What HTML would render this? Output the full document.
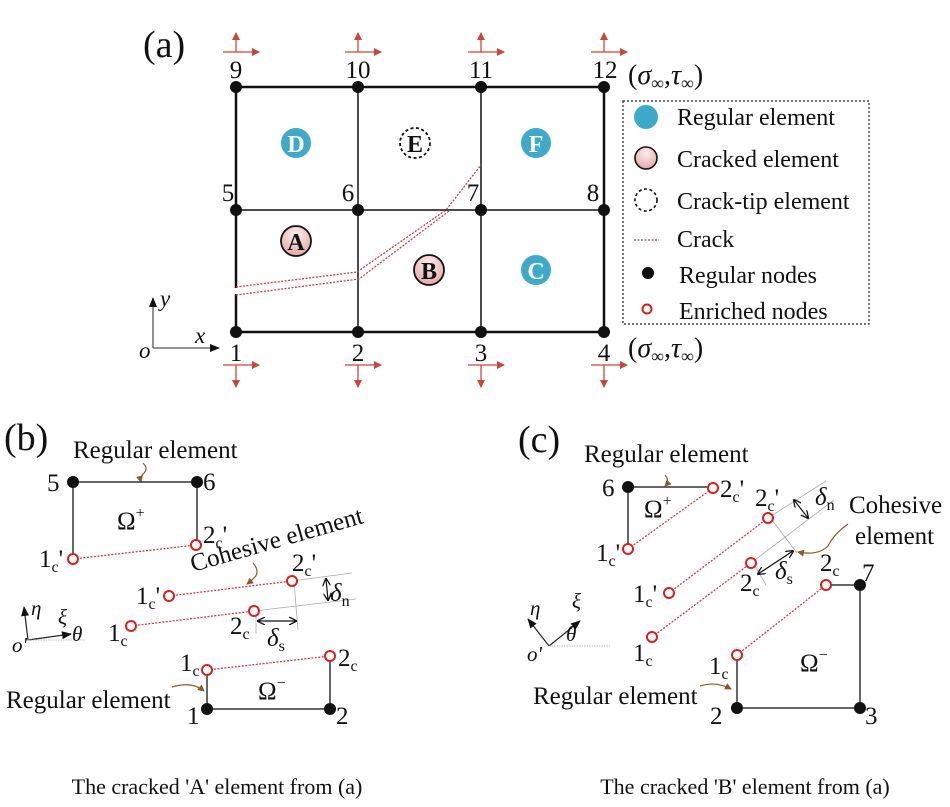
<!DOCTYPE html>
<html><head><meta charset="utf-8"><style>
html,body{margin:0;padding:0;background:#fff}
svg{display:block}
text{font-family:"Liberation Serif",serif;fill:#111}
.i{font-style:italic}
</style></head><body>
<svg width="950" height="807" viewBox="0 0 950 807" xmlns="http://www.w3.org/2000/svg">
<defs>
<marker id="ra" markerWidth="8" markerHeight="8" refX="7" refY="4" orient="auto" markerUnits="userSpaceOnUse"><path d="M0,0 L8,4 L0,8 z" fill="#c8463c"/></marker>
<marker id="ka" markerWidth="10" markerHeight="8" refX="9" refY="4" orient="auto" markerUnits="userSpaceOnUse"><path d="M0,0 L10,4 L0,8 z" fill="#111"/></marker>
<marker id="ks" markerWidth="8" markerHeight="8" refX="7" refY="4" orient="auto-start-reverse" markerUnits="userSpaceOnUse"><path d="M0,0 L8,4 L0,8" fill="none" stroke="#111" stroke-width="1.3"/></marker>
<marker id="ba" markerWidth="7" markerHeight="7" refX="6" refY="3.5" orient="auto" markerUnits="userSpaceOnUse"><path d="M0,0 L7,3.5 L0,7 z" fill="#8a5a2b"/></marker>
<radialGradient id="pk" cx="50%" cy="30%" r="70%"><stop offset="0" stop-color="#fbeeee"/><stop offset="1" stop-color="#e3a8a6"/></radialGradient>
</defs>

<!-- (a) -->
<text x="143" y="57" font-size="38">(a)</text>
<g stroke="#111" fill="none">
<rect x="236" y="87" width="368" height="245" stroke-width="2.5"/>
<line x1="358" y1="87" x2="358" y2="332" stroke-width="1.5"/>
<line x1="481" y1="87" x2="481" y2="332" stroke-width="1.5"/>
<line x1="236" y1="210" x2="604" y2="210" stroke-width="1.5"/>
</g>
<rect x="233" y="288" width="6" height="6" fill="#fff"/>
<g stroke="#c83c46" stroke-width="1.3" stroke-dasharray="2,1.5" fill="none">
<polyline points="236,287 357,272 446,210 481,165"/>
<polyline points="236,295 359,279 449,211"/>
</g>
<g fill="#111">
<circle cx="236" cy="87" r="6"/><circle cx="358" cy="87" r="6"/><circle cx="481" cy="87" r="6"/><circle cx="604" cy="87" r="6"/>
<circle cx="236" cy="210" r="6"/><circle cx="358" cy="210" r="6"/><circle cx="481" cy="210" r="6"/><circle cx="604" cy="210" r="6"/>
<circle cx="236" cy="332" r="6"/><circle cx="358" cy="332" r="6"/><circle cx="481" cy="332" r="6"/><circle cx="604" cy="332" r="6"/>
</g>
<g font-size="25" text-anchor="middle">
<text x="236" y="78">9</text><text x="358" y="78">10</text><text x="481" y="78">11</text><text x="605" y="78">12</text>
<text x="228" y="201">5</text><text x="348" y="201">6</text><text x="473" y="201">7</text><text x="593" y="201">8</text>
<text x="236" y="361">1</text><text x="358" y="361">2</text><text x="481" y="361">3</text><text x="604" y="361">4</text>
</g>
<g stroke="#c8463c" stroke-width="1.3">
<g id="ta"><line x1="236" y1="52" x2="236" y2="33" marker-end="url(#ra)"/><line x1="223" y1="52" x2="259" y2="52" marker-end="url(#ra)"/></g>
<use href="#ta" x="122"/><use href="#ta" x="245"/><use href="#ta" x="368"/>
<g id="ba2"><line x1="236" y1="365" x2="236" y2="387" marker-end="url(#ra)"/><line x1="223" y1="365" x2="259" y2="365" marker-end="url(#ra)"/></g>
<use href="#ba2" x="122"/><use href="#ba2" x="245"/><use href="#ba2" x="368"/>
</g>
<g font-size="24" font-weight="bold" text-anchor="middle">
<circle cx="296" cy="143" r="15" fill="#3fa9c9"/><text x="296" y="152" style="fill:#fff">D</text>
<circle cx="536" cy="143" r="15" fill="#3fa9c9"/><text x="536" y="152" style="fill:#fff">F</text>
<circle cx="536" cy="270" r="15" fill="#3fa9c9"/><text x="536" y="279" style="fill:#fff">C</text>
<circle cx="415" cy="143" r="15" fill="none" stroke="#111" stroke-width="1.8" stroke-dasharray="3,2.5"/><text x="415" y="152">E</text>
<circle cx="296" cy="241" r="15" fill="url(#pk)" stroke="#111" stroke-width="1.8"/><text x="296" y="250">A</text>
<circle cx="429" cy="270" r="15" fill="url(#pk)" stroke="#111" stroke-width="1.8"/><text x="429" y="279">B</text>
</g>
<g stroke="#555" stroke-width="1.3"><line x1="153" y1="348" x2="153" y2="298" marker-end="url(#ka)"/><line x1="153" y1="348" x2="219" y2="348" marker-end="url(#ka)"/></g>
<text x="139" y="358" font-size="23" class="i">o</text>
<text x="160" y="306" font-size="23" class="i">y</text>
<text x="195" y="343" font-size="23" class="i">x</text>
<text x="628" y="84" font-size="28">(<tspan class="i">σ</tspan><tspan font-size="18" dy="5">∞</tspan><tspan dy="-5">,</tspan><tspan class="i">τ</tspan><tspan font-size="18" dy="5">∞</tspan><tspan dy="-5">)</tspan></text>
<text x="628" y="357" font-size="28">(<tspan class="i">σ</tspan><tspan font-size="18" dy="5">∞</tspan><tspan dy="-5">,</tspan><tspan class="i">τ</tspan><tspan font-size="18" dy="5">∞</tspan><tspan dy="-5">)</tspan></text>
<rect x="623" y="101" width="246" height="223" fill="none" stroke="#222" stroke-width="1.2" stroke-dasharray="2,2"/>
<circle cx="646" cy="117" r="12" fill="#3fa9c9"/>
<circle cx="646" cy="158" r="11" fill="url(#pk)" stroke="#111" stroke-width="1.6"/>
<circle cx="646" cy="200" r="11" fill="none" stroke="#111" stroke-width="1.6" stroke-dasharray="3,2.5"/>
<line x1="634" y1="240" x2="659" y2="240" stroke="#a0404a" stroke-width="1.2" stroke-dasharray="2,1.5"/>
<circle cx="648" cy="273" r="6" fill="#111"/>
<circle cx="647" cy="309" r="4.5" fill="none" stroke="#d82020" stroke-width="2"/>
<g font-size="24">
<text x="677" y="125">Regular element</text>
<text x="677" y="167">Cracked element</text>
<text x="677" y="209">Crack-tip element</text>
<text x="677" y="247">Crack</text>
<text x="679" y="283">Regular nodes</text>
<text x="679" y="319">Enriched nodes</text>
</g>

<!-- (b) -->
<text x="4" y="450" font-size="38">(b)</text>
<text x="73" y="458" font-size="25">Regular element</text>
<path d="M143,463 q6,6 0,11 q-3,4 -2,8" fill="none" stroke="#8a5a2b" stroke-width="1.2" marker-end="url(#ba)"/>
<g stroke="#333" stroke-width="1.5" fill="none">
<polyline points="73,559 73,482 197,482 197,545"/>
<polyline points="207,670 207,709 330,709 330,656"/>
</g>
<g stroke="#c83c46" stroke-width="1.3" stroke-dasharray="2,1.5">
<line x1="73" y1="559" x2="196" y2="545"/>
<line x1="169" y1="596" x2="292" y2="581"/>
<line x1="131" y1="626" x2="254" y2="611"/>
<line x1="207" y1="670" x2="330" y2="656"/>
</g>
<g stroke="#aaa" stroke-width="0.8">
<line x1="292" y1="581" x2="352" y2="573"/><line x1="254" y1="611" x2="356" y2="599"/>
<line x1="294" y1="582" x2="298" y2="630"/><line x1="256" y1="612" x2="256" y2="634"/>
</g>
<line x1="326" y1="579" x2="328" y2="600" stroke="#111" stroke-width="1.2" marker-start="url(#ks)" marker-end="url(#ks)"/>
<line x1="258" y1="621" x2="296" y2="621" stroke="#111" stroke-width="1.2" marker-start="url(#ks)" marker-end="url(#ks)"/>
<g fill="#111"><circle cx="73" cy="482" r="6"/><circle cx="197" cy="482" r="6"/><circle cx="207" cy="709" r="6"/><circle cx="330" cy="709" r="6"/></g>
<g fill="#fff" stroke="#d82020" stroke-width="2">
<circle cx="73" cy="559" r="5"/><circle cx="196" cy="545" r="5"/><circle cx="169" cy="596" r="5"/><circle cx="292" cy="581" r="5"/>
<circle cx="131" cy="626" r="5"/><circle cx="254" cy="611" r="5"/><circle cx="207" cy="670" r="5"/><circle cx="330" cy="656" r="5"/>
</g>
<g font-size="25">
<text x="47" y="491">5</text><text x="203" y="490">6</text>
<text x="117" y="529">Ω<tspan font-size="16" dy="-11">+</tspan></text>
<text x="258" y="699">Ω<tspan font-size="16" dy="-11">−</tspan></text>
<text x="187" y="724">1</text><text x="336" y="724">2</text>
<text x="39" y="567">1<tspan font-size="16" dy="5">c</tspan><tspan dy="-5">'</tspan></text>
<text x="203" y="543">2<tspan font-size="16" dy="5">c</tspan><tspan dy="-5">'</tspan></text>
<text x="136" y="604">1<tspan font-size="16" dy="5">c</tspan><tspan dy="-5">'</tspan></text>
<text x="292" y="571">2<tspan font-size="16" dy="5">c</tspan><tspan dy="-5">'</tspan></text>
<text x="108" y="641">1<tspan font-size="16" dy="5">c</tspan></text>
<text x="230" y="634">2<tspan font-size="16" dy="5">c</tspan></text>
<text x="180" y="671">1<tspan font-size="16" dy="5">c</tspan></text>
<text x="338" y="666">2<tspan font-size="16" dy="5">c</tspan></text>
<text x="330" y="601" class="i">δ<tspan font-size="16" dy="5" style="font-style:normal">n</tspan></text>
<text x="267" y="646" class="i">δ<tspan font-size="16" dy="5" style="font-style:normal">s</tspan></text>
</g>
<text x="0" y="0" font-size="25" transform="translate(193,572) rotate(-16)">Cohesive element</text>
<path d="M253,563 q7,8 2,14 q-4,4 -8,7" fill="none" stroke="#8a5a2b" stroke-width="1.2" marker-end="url(#ba)"/>
<text x="6" y="708" font-size="25">Regular element</text>
<path d="M172,687 q20,-6 32,4" fill="none" stroke="#8a5a2b" stroke-width="1.2" marker-end="url(#ba)"/>
<g stroke="#222" stroke-width="1.2"><line x1="28" y1="640" x2="24" y2="607" marker-end="url(#ka)"/><line x1="28" y1="640" x2="71" y2="634" marker-end="url(#ka)"/></g>
<line x1="28" y1="640" x2="85" y2="640" stroke="#aaa" stroke-width="0.8" stroke-dasharray="1.5,1"/>
<text x="12" y="652" font-size="21" class="i">o'</text>
<text x="31" y="615" font-size="21" class="i">η</text>
<text x="58" y="624" font-size="21" class="i">ξ</text>
<text x="72" y="641" font-size="21" class="i">θ</text>
<text x="217" y="794" font-size="22" text-anchor="middle">The cracked 'A' element from (a)</text>

<!-- (c) -->
<text x="518" y="452" font-size="38">(c)</text>
<text x="584" y="462" font-size="25">Regular element</text>
<path d="M665,475 q5,6 0,11" fill="none" stroke="#8a5a2b" stroke-width="1.2" marker-end="url(#ba)"/>
<g stroke="#333" stroke-width="1.5" fill="none">
<polyline points="628,549 628,487 713,487"/>
<polyline points="737,655 737,708 860,708 860,585 826,585"/>
</g>
<g stroke="#c83c46" stroke-width="1.3" stroke-dasharray="2,1.5">
<line x1="628" y1="549" x2="713" y2="488"/>
<line x1="669" y1="593" x2="768" y2="518"/>
<line x1="652" y1="637" x2="751" y2="563"/>
<line x1="737" y1="655" x2="826" y2="585"/>
</g>
<g stroke="#aaa" stroke-width="0.8">
<line x1="768" y1="518" x2="826" y2="481"/><line x1="751" y1="563" x2="834" y2="500"/>
<line x1="772" y1="520" x2="797" y2="553"/><line x1="755" y1="566" x2="766" y2="585"/>
</g>
<line x1="794" y1="500" x2="808" y2="518" stroke="#111" stroke-width="1.2" marker-start="url(#ks)" marker-end="url(#ks)"/>
<line x1="758" y1="574" x2="793" y2="551" stroke="#111" stroke-width="1.2" marker-start="url(#ks)" marker-end="url(#ks)"/>
<g fill="#111"><circle cx="628" cy="487" r="6"/><circle cx="860" cy="585" r="6"/><circle cx="737" cy="708" r="6"/><circle cx="860" cy="708" r="6"/></g>
<g fill="#fff" stroke="#d82020" stroke-width="2">
<circle cx="628" cy="549" r="5"/><circle cx="713" cy="488" r="5"/><circle cx="669" cy="593" r="5"/><circle cx="768" cy="518" r="5"/>
<circle cx="652" cy="637" r="5"/><circle cx="751" cy="563" r="5"/><circle cx="737" cy="655" r="5"/><circle cx="826" cy="585" r="5"/>
</g>
<g font-size="25">
<text x="602" y="496">6</text><text x="862" y="581">7</text><text x="710" y="724">2</text><text x="865" y="724">3</text>
<text x="644" y="517">Ω<tspan font-size="16" dy="-11">+</tspan></text>
<text x="800" y="671">Ω<tspan font-size="16" dy="-11">−</tspan></text>
<text x="596" y="561">1<tspan font-size="16" dy="5">c</tspan><tspan dy="-5">'</tspan></text>
<text x="720" y="497">2<tspan font-size="16" dy="5">c</tspan><tspan dy="-5">'</tspan></text>
<text x="633" y="602">1<tspan font-size="16" dy="5">c</tspan><tspan dy="-5">'</tspan></text>
<text x="755" y="506">2<tspan font-size="16" dy="5">c</tspan><tspan dy="-5">'</tspan></text>
<text x="633" y="661">1<tspan font-size="16" dy="5">c</tspan></text>
<text x="740" y="591">2<tspan font-size="16" dy="5">c</tspan></text>
<text x="709" y="674">1<tspan font-size="16" dy="5">c</tspan></text>
<text x="820" y="571">2<tspan font-size="16" dy="5">c</tspan></text>
<text x="815" y="505" class="i">δ<tspan font-size="16" dy="5" style="font-style:normal">n</tspan></text>
<text x="775" y="579" class="i">δ<tspan font-size="16" dy="5" style="font-style:normal">s</tspan></text>
</g>
<text x="849" y="513" font-size="25">Cohesive</text>
<text x="855" y="544" font-size="25">element</text>
<path d="M848,524 q-14,10 -20,22 q-10,10 -30,6" fill="none" stroke="#8a5a2b" stroke-width="1.2" marker-end="url(#ba)"/>
<text x="533" y="704" font-size="25">Regular element</text>
<path d="M700,686 q16,-5 31,3" fill="none" stroke="#8a5a2b" stroke-width="1.2" marker-end="url(#ba)"/>
<g stroke="#222" stroke-width="1.2"><line x1="549" y1="646" x2="528" y2="619" marker-end="url(#ka)"/><line x1="549" y1="646" x2="580" y2="621" marker-end="url(#ka)"/></g>
<line x1="549" y1="646" x2="610" y2="646" stroke="#aaa" stroke-width="0.8" stroke-dasharray="1.5,1"/>
<text x="527" y="661" font-size="21" class="i">o'</text>
<text x="530" y="615" font-size="21" class="i">η</text>
<text x="572" y="608" font-size="21" class="i">ξ</text>
<text x="566" y="641" font-size="21" class="i">θ</text>
<text x="745" y="794" font-size="22" text-anchor="middle">The cracked  'B' element from (a)</text>
</svg>
</body></html>
